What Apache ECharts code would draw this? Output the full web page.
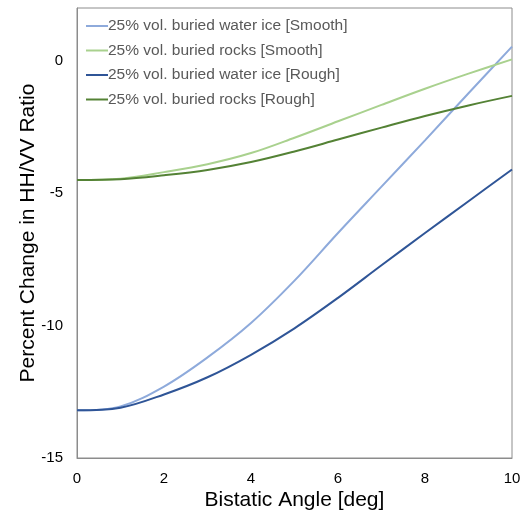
<!DOCTYPE html>
<html>
<head>
<meta charset="utf-8">
<script src="https://cdn.jsdelivr.net/npm/echarts@6/dist/echarts.min.js"></script>
<style>
    html, body { margin: 0; padding: 0; background: #fff; }
    #chart { width: 529px; height: 514px; }
</style>
</head>
<body>
<div id="chart"></div>
<script>
var angles = [0, 1, 2, 3, 4, 5, 6, 7, 8, 9, 10];
var seriesNames = [
    '25% vol. buried water ice [Smooth]',
    '25% vol. buried rocks [Smooth]',
    '25% vol. buried water ice [Rough]',
    '25% vol. buried rocks [Rough]'
];
var iceSmooth = [-13.2, -13.05, -12.3, -11.2, -9.9, -8.3, -6.5, -4.75, -3.0, -1.22, 0.54];
var rocksSmooth = [-4.5, -4.45, -4.2, -3.9, -3.48, -2.9, -2.28, -1.66, -1.05, -0.48, 0.06];
var iceRough = [-13.2, -13.1, -12.6, -11.95, -11.1, -10.1, -8.95, -7.72, -6.5, -5.3, -4.1];
var rocksRough = [-4.5, -4.47, -4.32, -4.12, -3.82, -3.42, -2.97, -2.52, -2.08, -1.68, -1.32];
var colors = ['#8eaadb', '#a9d18e', '#2f5597', '#548235'];

var chart = echarts.init(document.getElementById('chart'));

function pairs(ys) {
    var out = [];
    for (var i = 0; i < angles.length; i++) {
        out.push([angles[i], ys[i]]);
    }
    return out;
}

function makeSeries(idx, ys) {
    return {
        name: seriesNames[idx],
        type: 'line',
        smooth: 0.35,
        symbol: 'none',
        data: pairs(ys),
        lineStyle: { width: 2, color: colors[idx] },
        itemStyle: { color: colors[idx] }
    };
}

var option = {
    animation: false,
    textStyle: { fontFamily: 'Liberation Sans, Arial, sans-serif' },
    grid: {
        left: 77, right: 17, top: 8, bottom: 56,
        outerBoundsMode: 'none',
        show: true,
        borderColor: '#8c8c8c',
        borderWidth: 1
    },
    legend: {
        orient: 'vertical',
        left: 81,
        top: 13,
        icon: 'rect',
        itemWidth: 22,
        itemHeight: 2,
        itemGap: 8.5,
        textStyle: { fontSize: 15.5, color: '#595959', padding: [0, 0, 0, -5] },
        data: seriesNames
    },
    xAxis: {
        type: 'value',
        min: 0,
        max: 10,
        interval: 2,
        name: 'Bistatic Angle [deg]',
        nameLocation: 'middle',
        nameGap: 32,
        nameMoveOverlap: false,
        nameTextStyle: { fontSize: 21, color: '#000' },
        axisLine: { show: true, onZero: false, lineStyle: { color: '#8c8c8c' } },
        axisTick: { show: false },
        splitLine: { show: false },
        axisLabel: { fontSize: 15, color: '#000', margin: 13 }
    },
    yAxis: {
        type: 'value',
        min: -15,
        max: 2,
        interval: 5,
        name: 'Percent Change in HH/VV Ratio',
        nameLocation: 'middle',
        nameGap: 38,
        nameMoveOverlap: false,
        nameTextStyle: { fontSize: 21, color: '#000' },
        axisLine: { show: true, onZero: false, lineStyle: { color: '#8c8c8c' } },
        axisTick: { show: false },
        splitLine: { show: false },
        axisLabel: { fontSize: 15, color: '#000', margin: 14, showMaxLabel: false }
    },
    series: [
        makeSeries(0, iceSmooth),
        makeSeries(1, rocksSmooth),
        makeSeries(2, iceRough),
        makeSeries(3, rocksRough)
    ]
};

chart.setOption(option);
</script>
</body>
</html>
